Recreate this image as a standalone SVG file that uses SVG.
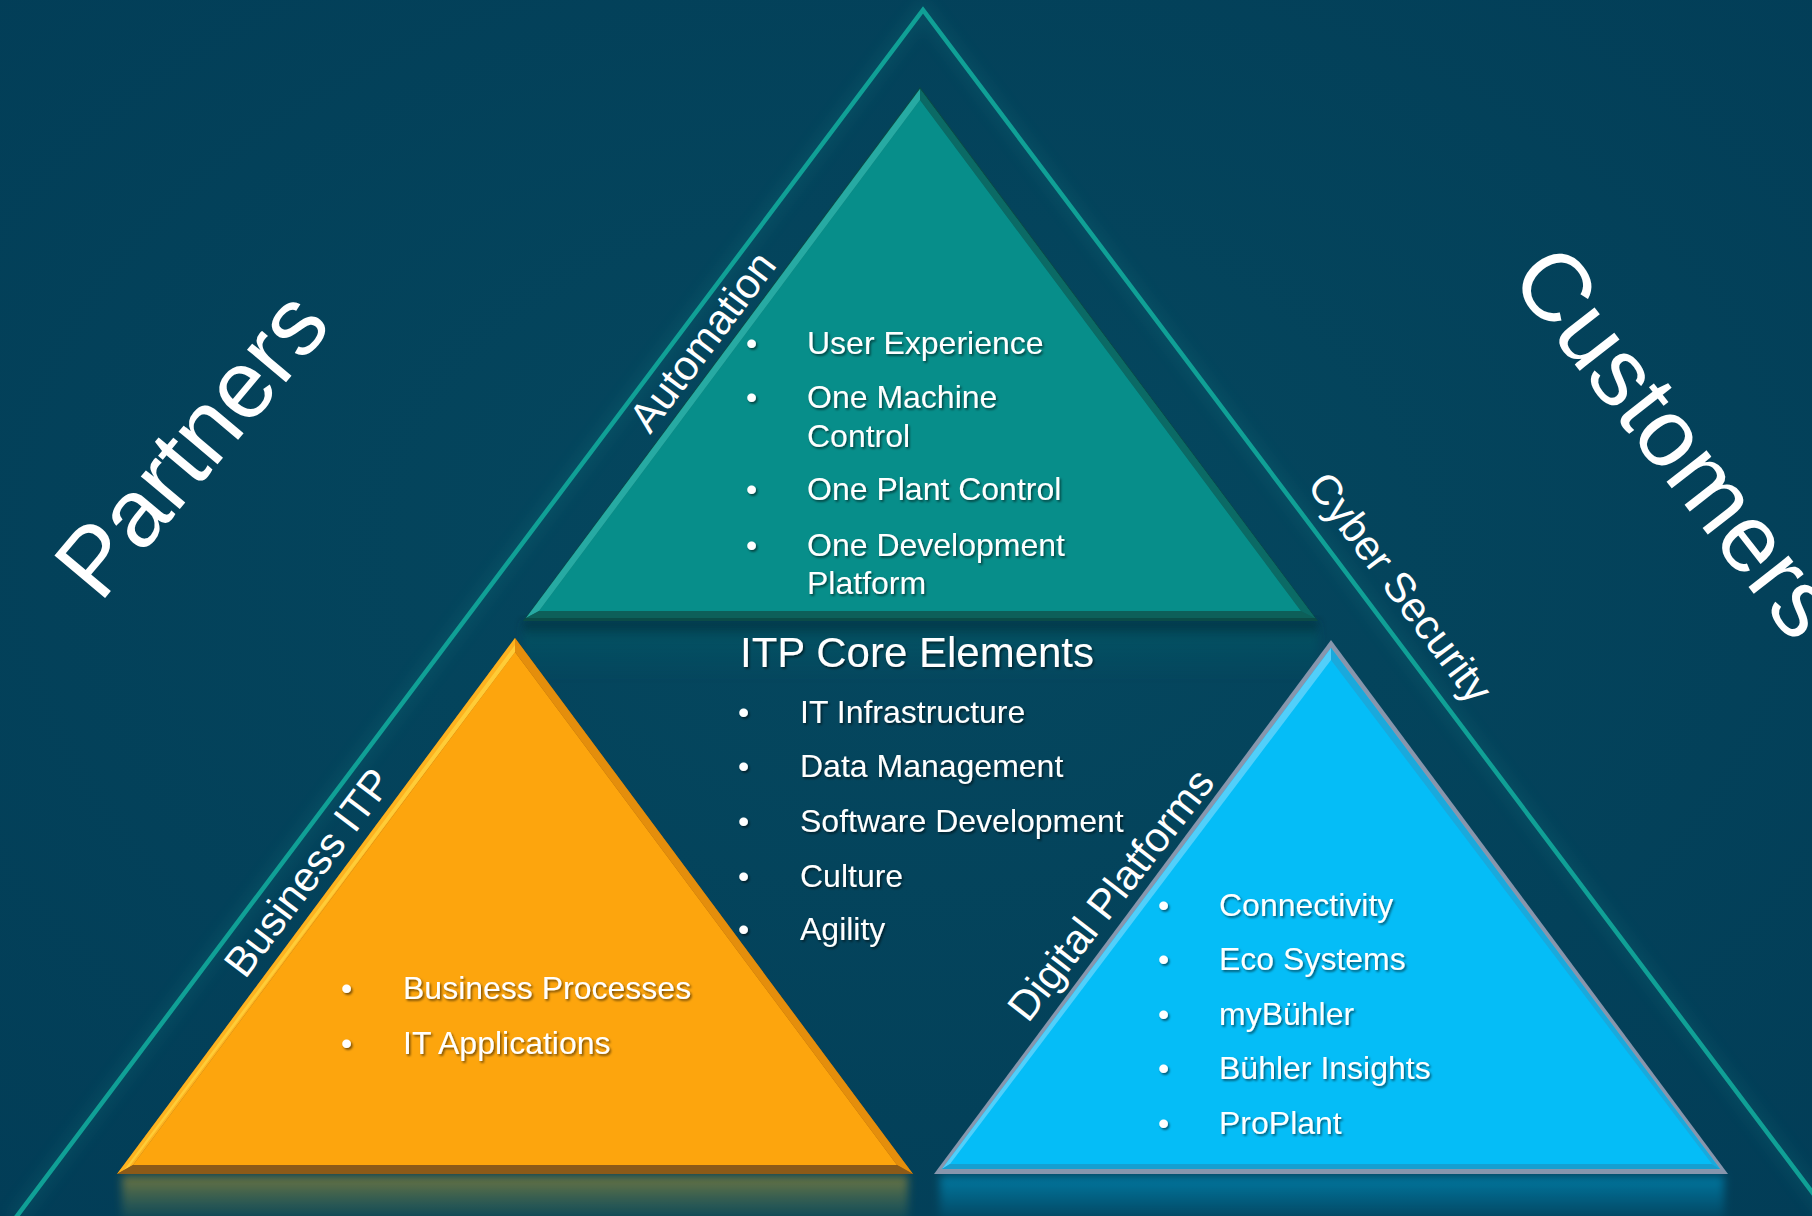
<svg xmlns="http://www.w3.org/2000/svg" width="1812" height="1216" viewBox="0 0 1812 1216">
  <defs>
    <radialGradient id="bg" cx="0.5" cy="0.45" r="0.75">
      <stop offset="0" stop-color="#05485f"/>
      <stop offset="1" stop-color="#023d57"/>
    </radialGradient>
    <filter id="ts" x="-5%" y="-20%" width="115%" height="150%">
      <feDropShadow dx="1.5" dy="1.8" stdDeviation="1" flood-color="#000" flood-opacity="0.55"/>
    </filter>
    <filter id="blur4"><feGaussianBlur stdDeviation="4"/></filter>
    <filter id="blur8"><feGaussianBlur stdDeviation="8"/></filter>
    <linearGradient id="reflO" x1="0" y1="0" x2="0" y2="1">
      <stop offset="0" stop-color="#c9a02a" stop-opacity="0.55"/>
      <stop offset="1" stop-color="#7a9a50" stop-opacity="0.1"/>
    </linearGradient>
    <linearGradient id="reflB" x1="0" y1="0" x2="0" y2="1">
      <stop offset="0" stop-color="#05bdf7" stop-opacity="0.45"/>
      <stop offset="1" stop-color="#05bdf7" stop-opacity="0.05"/>
    </linearGradient>
    <linearGradient id="reflT" x1="0" y1="0" x2="0" y2="1">
      <stop offset="0" stop-color="#01202c" stop-opacity="0.7"/>
      <stop offset="0.35" stop-color="#0a6b70" stop-opacity="0.25"/>
      <stop offset="1" stop-color="#0a6b70" stop-opacity="0"/>
    </linearGradient>
  </defs>
  <style>
    .big { font-family: "Liberation Sans", Arial, sans-serif; font-size: 96px; fill: #ffffff; }
    .side { font-family: "Liberation Sans", Arial, sans-serif; font-size: 42px; fill: #ffffff; }
    .item { font-family: "Liberation Sans", Arial, sans-serif; font-size: 32px; fill: #ffffff; }
    .title { font-family: "Liberation Sans", Arial, sans-serif; font-size: 42px; fill: #ffffff; }
    .frame { fill: none; stroke: #10a096; stroke-width: 4.5; stroke-linejoin: miter; }
  </style>

  <rect x="0" y="0" width="1812" height="1216" fill="url(#bg)"/>

  <!-- outer frame triangle -->
  <g id="frame">
    <polyline points="14,1220 923,10 1833,1220" fill="none" stroke="#1a8a8a" stroke-width="14" opacity="0.18" filter="url(#blur8)"/>
    <polyline class="frame" points="14,1220 923,10 1833,1220"/>
  </g>

  <!-- reflections / shadows -->
  <g id="reflections">
    <rect x="523" y="621" width="795" height="60" fill="url(#reflT)" filter="url(#blur4)"/>
    <rect x="122" y="1176" width="786" height="44" fill="url(#reflO)" filter="url(#blur4)"/>
    <rect x="940" y="1176" width="784" height="44" fill="url(#reflB)" filter="url(#blur4)"/>
  </g>

  <!-- Top triangle: Automation -->
  <g id="automation">
    <polygon points="920,87 523,621 1318,621" fill="#0a4b47"/>
    <polygon points="920,89 526,618 1315,618" fill="#0c6f69"/>
    <polygon points="920,100 539,611 1301,611" fill="#078e8a"/>
    <polygon points="920,89 526,618 539,611 920,100" fill="#27aaa3"/>
    <polygon points="920,89 1315,618 1301,611 920,100" fill="#0b6a65"/>
    <polygon points="526,618 1315,618 1301,611 539,611" fill="#0d5f59"/>
    <text class="item" filter="url(#ts)"><tspan x="746" y="354">•</tspan><tspan x="807" y="354">User Experience</tspan></text>
    <text class="item" filter="url(#ts)"><tspan x="746" y="408">•</tspan><tspan x="807" y="408">One Machine</tspan><tspan x="807" y="447">Control</tspan></text>
    <text class="item" filter="url(#ts)"><tspan x="746" y="500">•</tspan><tspan x="807" y="500">One Plant Control</tspan></text>
    <text class="item" filter="url(#ts)"><tspan x="746" y="556">•</tspan><tspan x="807" y="556">One Development</tspan><tspan x="807" y="594">Platform</tspan></text>
  </g>

  <!-- Orange triangle: Business ITP -->
  <g id="business">
    <polygon points="515,638 117,1174 913,1174" fill="#a0620f"/>
    <polygon points="515,652 133,1165 897,1165" fill="#fda50d"/>
    <polygon points="515,638 117,1174 133,1165 515,652" fill="#fdb320"/>
    <polygon points="515,645 124,1170 129,1167 515,652" fill="#ffd23d" opacity="0.8"/>
    <polygon points="515,638 913,1174 897,1165 515,652" fill="#e48e0c"/>
    <polygon points="117,1174 913,1174 897,1165 133,1165" fill="#8c5a18"/>
    <text class="item" filter="url(#ts)"><tspan x="341" y="999">•</tspan><tspan x="403" y="999">Business Processes</tspan></text>
    <text class="item" filter="url(#ts)"><tspan x="341" y="1054">•</tspan><tspan x="403" y="1054">IT Applications</tspan></text>
  </g>

  <!-- Blue triangle: Digital Platforms -->
  <g id="digital">
    <polygon points="1331,640 934,1174 1728,1174" fill="#8796ad"/>
    <polygon points="1331,648 942,1169 1720,1169" fill="#05bdf7"/>
    <polygon points="1331,648 942,1169 950,1164 1331,660" fill="#52cffa"/>
    <polygon points="1331,648 1720,1169 1712,1164 1331,660" fill="#1aa9dc"/>
    <polygon points="942,1169 1720,1169 1712,1164 950,1164" fill="#169fd0"/>
    <text class="item" filter="url(#ts)"><tspan x="1158" y="916">•</tspan><tspan x="1219" y="916">Connectivity</tspan></text>
    <text class="item" filter="url(#ts)"><tspan x="1158" y="970">•</tspan><tspan x="1219" y="970">Eco Systems</tspan></text>
    <text class="item" filter="url(#ts)"><tspan x="1158" y="1025">•</tspan><tspan x="1219" y="1025">myBühler</tspan></text>
    <text class="item" filter="url(#ts)"><tspan x="1158" y="1079">•</tspan><tspan x="1219" y="1079">Bühler Insights</tspan></text>
    <text class="item" filter="url(#ts)"><tspan x="1158" y="1134">•</tspan><tspan x="1219" y="1134">ProPlant</tspan></text>
  </g>

  <!-- Core elements -->
  <g id="core">
    <text class="title" x="740" y="667" filter="url(#ts)">ITP Core Elements</text>
    <text class="item" filter="url(#ts)"><tspan x="738" y="723">•</tspan><tspan x="800" y="723">IT Infrastructure</tspan></text>
    <text class="item" filter="url(#ts)"><tspan x="738" y="777">•</tspan><tspan x="800" y="777">Data Management</tspan></text>
    <text class="item" filter="url(#ts)"><tspan x="738" y="832">•</tspan><tspan x="800" y="832">Software Development</tspan></text>
    <text class="item" filter="url(#ts)"><tspan x="738" y="887">•</tspan><tspan x="800" y="887">Culture</tspan></text>
    <text class="item" filter="url(#ts)"><tspan x="738" y="940">•</tspan><tspan x="800" y="940">Agility</tspan></text>
  </g>

  <!-- Side labels -->
  <g id="labels">
    <text id="partners" class="big" transform="translate(100,604) rotate(-50)">Partners</text>
    <text id="customers" class="big" transform="translate(1508,279) rotate(52)">Customers</text>
    <text id="lbl-automation" class="side" transform="translate(650,435) rotate(-53)">Automation</text>
    <text id="lbl-cyber" class="side" transform="translate(1306,486) rotate(53)">Cyber Security</text>
    <text id="lbl-business" class="side" transform="translate(245,980) rotate(-53)">Business ITP</text>
    <text id="lbl-digital" class="side" transform="translate(1028,1024) rotate(-52)">Digital Platforms</text>
  </g>
</svg>
